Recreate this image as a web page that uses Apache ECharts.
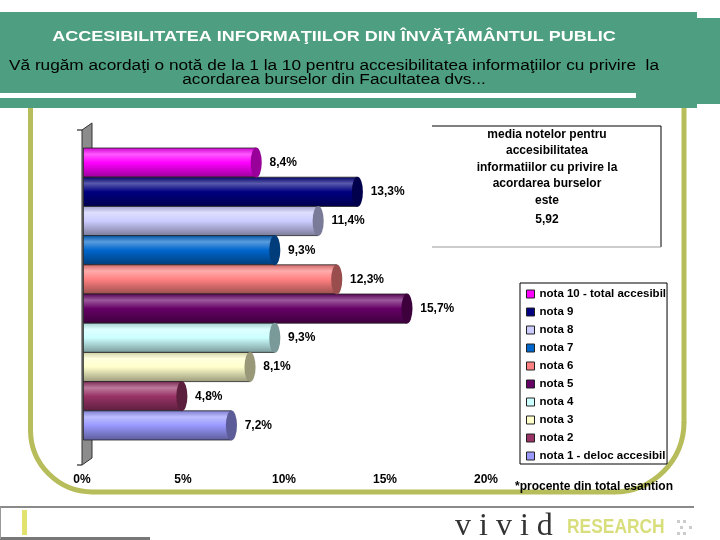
<html lang="ro">
<head>
    <meta http-equiv="Content-Type" content="text/html; charset=utf-8" />
    <title>Accesibilitatea informatiilor</title>
    <script src="https://cdn.jsdelivr.net/npm/echarts@6.0.0/dist/echarts.min.js"></script>
</head>
<body style="padding:0px;margin:0px;overflow:hidden;background:#fff;">

<div id="main" style="width:720px;height:540px;"></div>

<script type="text/javascript">
    var categories = ['nota 10 - total accesibil', 'nota 9', 'nota 8', 'nota 7', 'nota 6',
        'nota 5', 'nota 4', 'nota 3', 'nota 2', 'nota 1 - deloc accesibil'];
    var values = [8.4, 13.3, 11.4, 9.3, 12.3, 15.7, 9.3, 8.1, 4.8, 7.2];
    var colors = ['#FF00FF', '#000080', '#CCCCFF', '#0066CC', '#FF8080',
        '#660066', '#CCFFFF', '#FFFFCC', '#993366', '#9999FF'];
    var xTicks = [0, 5, 10, 15, 20];
    var mediaNote = 5.92;

    var titleText = 'ACCESIBILITATEA INFORMAŢIILOR DIN ÎNVĂŢĂMÂNTUL PUBLIC';
    var subText = 'Vă rugăm acordaţi o notă de la 1 la 10 pentru accesibilitatea informaţiilor cu privire  la\nacordarea burselor din Facultatea dvs...';
    var boxText = 'media notelor pentru\naccesibilitatea\ninformatiilor cu privire la\nacordarea burselor\neste';
    var footNote = '*procente din total esantion';

    var FONT = '"Liberation Sans", Arial, sans-serif';
    var OLIVE = '#B7BD5A';

    // mix a colour toward black (f<1) or white (f>1)
    function shade(hex, f) {
        var r = parseInt(hex.substr(1, 2), 16), g = parseInt(hex.substr(3, 2), 16), b = parseInt(hex.substr(5, 2), 16);
        function m(c) {
            var v = f <= 1 ? c * f : c + (255 - c) * (f - 1);
            return Math.max(0, Math.min(255, Math.round(v)));
        }
        return 'rgb(' + m(r) + ',' + m(g) + ',' + m(b) + ')';
    }

    function cylinder(c) {
        return new echarts.graphic.LinearGradient(0, 0, 0, 1, [
            {offset: 0, color: shade(c, 0.8)},
            {offset: 0.22, color: shade(c, 1.35)},
            {offset: 0.5, color: c},
            {offset: 1, color: shade(c, 0.6)}
        ]);
    }

    var series = [];
    categories.forEach(function (name, i) {
        series.push({
            name: name,
            type: 'bar',
            stack: 'tot',
            barWidth: 30,
            data: values.map(function (v, j) { return j === i ? v : '-'; }),
            itemStyle: {color: cylinder(colors[i]), borderColor: '#222', borderWidth: 0.8},
            label: {
                show: true,
                position: 'right',
                distance: 13,
                color: '#000',
                fontFamily: FONT,
                fontWeight: 'bold',
                fontSize: 12,
                formatter: function (p) { return String(p.value).replace('.', ',') + '%'; }
            }
        });
    });
    // rounded ends of the cylinders
    series.push({
        name: 'capete',
        type: 'pictorialBar',
        symbol: 'circle',
        symbolSize: [11, 30],
        symbolPosition: 'end',
        symbolOffset: ['50%', 0],
        silent: true,
        z: 3,
        data: values.map(function (v, i) {
            return {value: v, itemStyle: {color: shade(colors[i], 0.6), borderColor: '#222', borderWidth: 0.8}};
        })
    });

    var myChart = echarts.init(document.getElementById('main'));

    option = {
        animation: false,
        backgroundColor: '#fff',
        legend: {
            orient: 'vertical',
            left: 520,
            top: 283,
            icon: 'rect',
            itemWidth: 8,
            itemHeight: 8,
            itemGap: 6,
            padding: [5, 1, 2, 6],
            borderColor: '#000',
            borderWidth: 1,
            backgroundColor: '#fff',
            textStyle: {color: '#000', fontFamily: FONT, fontWeight: 'bold', fontSize: 11.5, lineHeight: 12},
            data: categories.map(function (n, i) {
                return {name: n, itemStyle: {color: colors[i], borderColor: '#222', borderWidth: 1}};
            })
        },
        // bars sit on the back plane, tick labels on the front plane of the 3d chart
        grid: [
            {left: 83, right: 224, top: 148, bottom: 100},
            {left: 82, right: 234, top: 148, bottom: 100}
        ],
        xAxis: [{
            type: 'value',
            min: xTicks[0],
            max: xTicks[xTicks.length - 1],
            interval: xTicks[1] - xTicks[0],
            axisLine: {show: false},
            axisTick: {show: false},
            splitLine: {show: false},
            axisLabel: {show: false}
        }, {
            type: 'value',
            gridIndex: 1,
            min: xTicks[0],
            max: xTicks[xTicks.length - 1],
            interval: xTicks[1] - xTicks[0],
            axisLine: {show: false},
            axisTick: {show: false},
            splitLine: {show: false},
            axisLabel: {
                margin: 34,
                color: '#000',
                fontFamily: FONT,
                fontWeight: 'bold',
                fontSize: 12,
                formatter: '{value}%'
            }
        }],
        yAxis: [{
            type: 'category',
            inverse: true,
            data: categories,
            axisLine: {show: false},
            axisTick: {show: false},
            axisLabel: {show: false}
        }, {
            type: 'value',
            gridIndex: 1,
            show: false
        }],
        graphic: [
            // header band
            {type: 'rect', shape: {x: 0, y: 12, width: 697, height: 96}, style: {fill: '#4E9F82'}},
            {type: 'rect', shape: {x: 697, y: 18, width: 23, height: 86}, style: {fill: '#4E9F82'}},
            {type: 'rect', shape: {x: 0, y: 93, width: 636, height: 5}, style: {fill: '#fff'}},
            {type: 'text', x: 334, y: 37, scaleX: 1.2, style: {text: titleText, align: 'center', verticalAlign: 'middle',
                fill: '#fff', font: 'bold 15px ' + FONT}},
            {type: 'text', x: 334, y: 73, scaleX: 1.23, style: {text: subText, align: 'center', verticalAlign: 'middle',
                fill: '#000', font: '14px ' + FONT, lineHeight: 14}},
            // olive frame
            {type: 'line', shape: {x1: 30.5, y1: 108, x2: 30.5, y2: 430}, style: {stroke: OLIVE, lineWidth: 5}},
            {type: 'arc', shape: {cx: 92.5, cy: 430, r: 62, startAngle: Math.PI / 2, endAngle: Math.PI, clockwise: true},
                style: {stroke: OLIVE, lineWidth: 5, fill: null}},
            {type: 'line', shape: {x1: 92, y1: 492, x2: 615, y2: 492}, style: {stroke: OLIVE, lineWidth: 5}},
            {type: 'arc', shape: {cx: 614, cy: 422, r: 70, startAngle: 0, endAngle: Math.PI / 2, clockwise: true},
                style: {stroke: OLIVE, lineWidth: 5, fill: null}},
            {type: 'line', shape: {x1: 684, y1: 108, x2: 684, y2: 423}, style: {stroke: OLIVE, lineWidth: 5}},
            // 3d wall of the axis
            {type: 'polygon', shape: {points: [[82, 130], [92, 123], [92, 458], [82, 465]]},
                style: {fill: '#8C8C8C', stroke: '#333', lineWidth: 1}},
            {type: 'line', shape: {x1: 77, y1: 130, x2: 82, y2: 130}, style: {stroke: '#000', lineWidth: 1}},
            {type: 'line', shape: {x1: 77, y1: 465, x2: 82, y2: 465}, style: {stroke: '#000', lineWidth: 1}},
            // info box
            {type: 'line', shape: {x1: 432, y1: 126, x2: 661, y2: 126}, style: {stroke: '#000', lineWidth: 1}},
            {type: 'line', shape: {x1: 661, y1: 126, x2: 661, y2: 247}, style: {stroke: '#000', lineWidth: 1}},
            {type: 'line', shape: {x1: 432, y1: 247, x2: 661, y2: 247}, style: {stroke: '#999', lineWidth: 1}},
            {type: 'text', x: 547, y: 126, style: {text: boxText, align: 'center', verticalAlign: 'top',
                fill: '#000', font: 'bold 12px ' + FONT, lineHeight: 16.5}},
            {type: 'text', x: 547, y: 220, style: {text: String(mediaNote).replace('.', ','), align: 'center',
                verticalAlign: 'middle', fill: '#000', font: 'bold 12px ' + FONT}},
            // footnote
            {type: 'text', x: 515, y: 487, style: {text: footNote, verticalAlign: 'middle',
                fill: '#000', font: 'bold 12px ' + FONT}},
            // footer
            {type: 'line', shape: {x1: 0, y1: 507, x2: 694, y2: 507}, style: {stroke: '#8A8A8A', lineWidth: 2}},
            {type: 'line', shape: {x1: 0, y1: 538.5, x2: 150, y2: 538.5}, style: {stroke: '#777', lineWidth: 3}},
            {type: 'line', shape: {x1: 0.5, y1: 507, x2: 0.5, y2: 539}, style: {stroke: '#999', lineWidth: 1}},
            {type: 'rect', shape: {x: 22, y: 510, width: 5, height: 25}, style: {fill: '#E2E36E'}},
            {type: 'text', x: 455, y: 543, style: {text: 'v i v i d', verticalAlign: 'bottom',
                fill: '#333', font: '32px "Liberation Serif", serif'}},
            {type: 'text', x: 567, y: 527, scaleX: 0.87, style: {text: 'RESEARCH', verticalAlign: 'middle',
                fill: '#D9DE7C', font: 'bold 20px ' + FONT}},
            {type: 'rect', shape: {x: 677, y: 520, width: 3, height: 3}, style: {fill: '#ccc'}},
            {type: 'rect', shape: {x: 683, y: 520, width: 3, height: 3}, style: {fill: '#ccc'}},
            {type: 'rect', shape: {x: 680, y: 526, width: 3, height: 3}, style: {fill: '#ccc'}},
            {type: 'rect', shape: {x: 677, y: 532, width: 3, height: 3}, style: {fill: '#ccc'}},
            {type: 'rect', shape: {x: 683, y: 532, width: 3, height: 3}, style: {fill: '#ccc'}},
            {type: 'rect', shape: {x: 689, y: 526, width: 3, height: 3}, style: {fill: '#ccc'}}
        ],
        series: series
    };

    myChart.setOption(option);
</script>
</body>
</html>
